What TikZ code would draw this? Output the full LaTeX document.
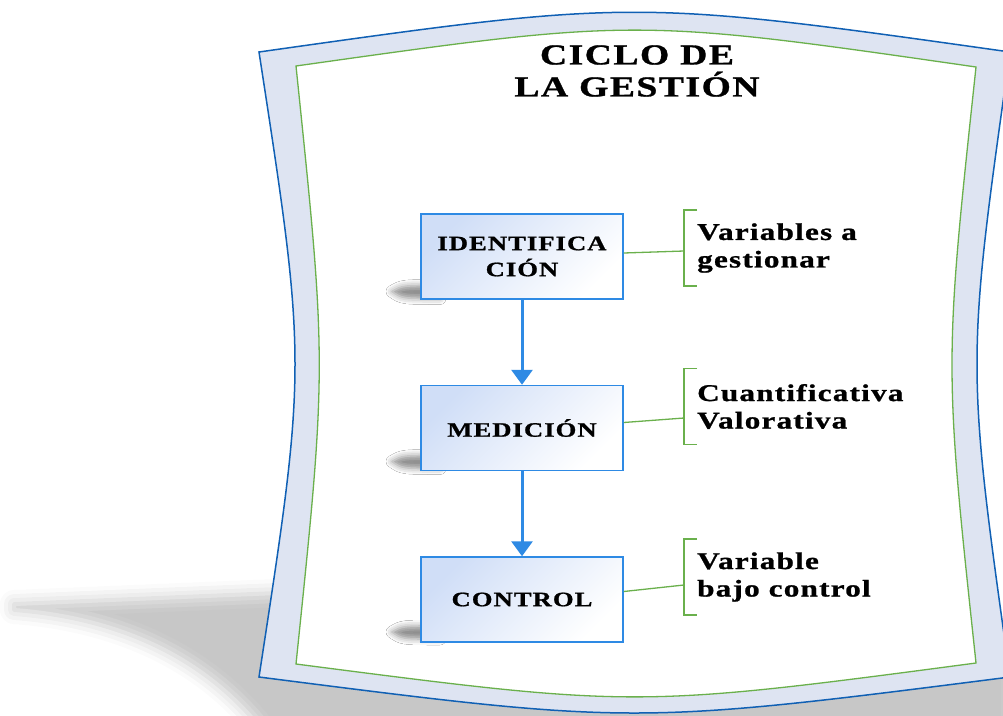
\documentclass[tikz,border=0pt]{standalone}
\usepackage{fontspec}
\setmainfont{Liberation Serif}
\newfontfamily\widefont[FakeStretch=1.3, LetterSpace=5, FakeBold=1]{Liberation Serif Bold}
\usetikzlibrary{calc,positioning,arrows.meta,shadows.blur}

\definecolor{frameblue}{RGB}{16,96,180}
\definecolor{framefill}{RGB}{222,228,242}
\definecolor{leafgreen}{RGB}{106,176,76}
\definecolor{boxblue}{RGB}{46,138,228}
\definecolor{boxfill}{RGB}{208,222,247}

\tikzset{
  stage/.style={draw=boxblue, line width=1.5pt, top color=boxfill, bottom color=white, shading angle=45,
    minimum width=202pt, minimum height=85pt, align=center, inner sep=0pt,
    font=\widefont\fontsize{20.5}{26}\selectfont},
  flow/.style={boxblue, line width=3pt, -{Triangle[width=21pt,length=15pt]}},
  leaf/.style={leafgreen, line width=1.3pt},
  note/.style={anchor=west, align=left, inner sep=0pt,
    font=\widefont\fontsize{24}{27.5}\selectfont},
  softshadow/.style 2 args={blur shadow={shadow xshift=0pt, shadow yshift=0pt,
    shadow blur radius=#1, shadow opacity=#2}}
}

\begin{document}
\begin{tikzpicture}[x=1pt,y=-1pt]
    \clip (0,0) rectangle (1003,715);
    % shadow under the frame
    \path[softshadow={14pt}{22}] (14,604) -- (300,592) -- (1015,652) -- (1015,730) -- (262,730)
      .. controls (205,658) and (120,618) .. (14,610) -- cycle;
    % frame
    \draw[frameblue, fill=framefill, line width=1.5pt] (259,52) .. controls (634,-1) .. (1010,52)
      .. controls (966,364) .. (1010,677) .. controls (634,725) .. (259,677)
      .. controls (307,364) .. (259,52) -- cycle;
    \draw[leafgreen, fill=white, line width=1.3pt] (296,66) .. controls (636,18) .. (976,67)
      .. controls (944,365) .. (976,663) .. controls (636,708) .. (296,664)
      .. controls (327,365) .. (296,66) -- cycle;
    \node[align=center, font=\widefont\fontsize{29}{32}\selectfont] (title) at (637,71) {CICLO DE\\LA GESTIÓN};
    % shadows of the boxes
    \foreach \y in {256.5,426.5,597}
      \path[softshadow={6pt}{45}] (392,\y+35) .. controls (402,\y+29) .. (440,\y+29) -- (440,\y+42) .. controls (402,\y+42) .. (392,\y+35) -- cycle;
    \node[stage] (ident) at (522,256.5) {IDENTIFICA\\CIÓN};
    \node[stage, below=85pt of ident] (medic) {MEDICIÓN};
    \node[stage, below=85pt of medic] (ctrl) {CONTROL};
    \draw[flow] (ident) -- (medic);
    \draw[flow] (medic) -- (ctrl);
    % brackets
    \coordinate (b1) at (684,248);
    \coordinate (b2) at (684,406.5);
    \coordinate (b3) at (684,577);
    \foreach \b in {b1,b2,b3}
      \draw[leaf] ($(\b)+(13,-38)$) -- ($(\b)+(0,-38)$) -- ($(\b)+(0,38)$) -- ($(\b)+(13,38)$);
    \draw[leaf] ([yshift=3.5pt]ident.east) -- ($(b1)+(0,3)$);
    \draw[leaf] ([yshift=5.5pt]medic.east) -- ($(b2)+(0,11.5)$);
    \draw[leaf] ([yshift=8pt]ctrl.east) -- ($(b3)+(0,8)$);
    \node[note, right=13pt of b1] (n1) {Variables a\\gestionar};
    \node[note, right=13pt of b2] (n2) {Cuantificativa\\Valorativa};
    \node[note, right=13pt of b3] (n3) {Variable\\bajo control};
\end{tikzpicture}
\end{document}
